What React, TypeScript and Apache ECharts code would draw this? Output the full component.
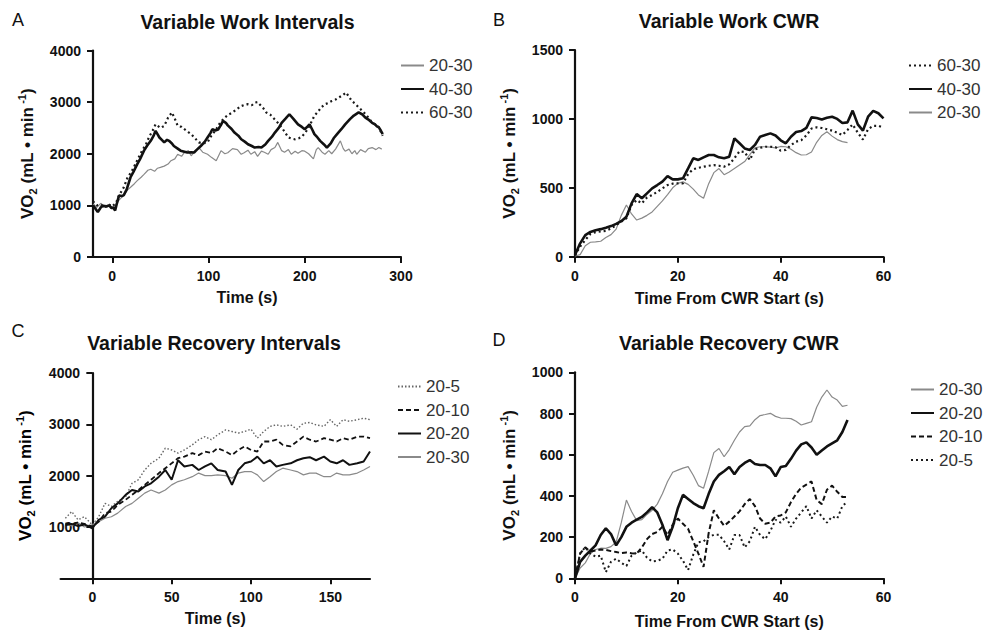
import React, { useEffect, useRef } from "react";
import * as echarts from "echarts";

// ---------- A: Variable Work Intervals (time s, VO2 mL/min) ----------
const wiT_20_30 = [-20,-16,-12,-8,-4,0,3,7,12,16,19,23,26,30,33,37,40,44,47,50,54,58,61,65,68,72,75,79,82,86,90,94,99,103,108,113,117,120,125,130,134,137,141,144,148,151,155,158,162,165,169,172,176,179,183,186,190,193,197,200,204,209,212,214,218,221,225,228,232,237,240,242,246,249,252,254,258,263,266,270,274,277,280];
const wiV_20_30 = [1030,960,1040,980,1010,930,1000,1100,1200,1300,1350,1420,1480,1545,1600,1680,1700,1660,1720,1735,1760,1800,1865,1900,1990,1950,2025,2060,1960,2050,2120,2030,1990,1930,1865,2060,2000,2020,2100,2080,1990,2020,2070,1990,2040,1950,2050,2030,1990,2080,2120,2220,2060,2030,2080,1990,2050,2010,2060,2050,2000,1900,2080,2120,2030,1990,2060,2000,2090,2250,2100,2050,2090,2000,2060,1990,2080,2030,2100,2120,2080,2120,2090];
const wiT_40_30 = [-20,-18,-15,-12,-10,-6,-3,-1,1,3,5,7,10,12,15,19,22,26,29,33,36,40,43,45,47,49,52,54,57,59,62,64,68,71,75,78,82,85,88,92,96,99,102,104,107,110,113,115,118,120,124,127,131,134,138,141,145,148,152,155,159,162,166,169,173,176,180,184,188,193,197,200,203,205,208,210,213,216,220,223,227,230,234,238,242,247,251,256,260,263,267,270,273,275,277,279,281];
const wiV_40_30 = [1000,950,870,960,990,980,1000,950,960,900,1050,1190,1180,1200,1310,1545,1650,1800,1900,2060,2150,2250,2350,2445,2380,2315,2260,2220,2270,2250,2200,2150,2100,2060,2040,2025,2030,2025,2080,2150,2230,2315,2400,2475,2450,2470,2560,2635,2600,2550,2480,2410,2350,2280,2230,2185,2150,2120,2130,2120,2180,2250,2330,2410,2500,2600,2680,2765,2680,2570,2520,2475,2530,2570,2460,2380,2320,2250,2180,2120,2200,2300,2390,2475,2570,2670,2740,2800,2760,2700,2650,2600,2570,2530,2510,2450,2380];
const wiT_60_30 = [-20,-16,-12,-8,-4,0,4,7,12,16,20,24,28,31,35,38,42,45,50,54,58,62,65,68,72,75,79,82,86,90,94,99,103,108,112,117,121,125,130,134,138,141,145,148,151,153,157,160,164,167,172,176,180,183,187,190,194,197,201,204,207,210,214,217,221,224,228,232,235,239,243,246,249,253,256,260,263,267,270,274,277,281];
const wiV_60_30 = [1080,1000,1020,960,1020,980,1050,1190,1350,1545,1650,1800,1950,2060,2180,2315,2450,2570,2500,2540,2700,2800,2680,2540,2520,2475,2420,2380,2300,2220,2200,2220,2350,2475,2600,2700,2760,2800,2870,2925,2950,2960,2940,2990,3000,2960,2880,2800,2760,2700,2600,2510,2400,2315,2290,2280,2300,2330,2420,2510,2620,2735,2820,2895,2960,2980,3020,3050,3085,3130,3185,3100,3020,2960,2895,2830,2765,2680,2600,2560,2510,2350];

// ---------- B: Variable Work CWR (s from CWR start) ----------
const cwrSeconds60 = Array.from({ length: 61 }, (_, i) => i);
const cwrSeconds53 = Array.from({ length: 54 }, (_, i) => i);
const wcV_60_30 = [10,73,121,165,178,183,188,205,228,255,278,375,411,387,430,448,470,496,520,530,532,532,600,635,645,653,660,665,660,653,670,715,765,760,702,780,790,798,798,795,770,775,810,835,845,880,930,939,934,925,915,900,883,920,960,900,850,925,950,950,935];
const wcV_40_30 = [12,97,157,180,192,200,210,222,238,258,290,387,455,424,460,496,520,545,585,561,561,569,641,714,702,721,738,738,721,714,726,859,823,786,774,811,871,883,895,880,845,823,870,905,912,935,1011,1006,995,1008,1016,1000,970,975,1060,960,915,1016,1058,1041,1004];
const wcV_20_30 = [5,15,80,105,108,112,140,160,200,300,375,310,266,280,300,325,365,405,450,500,532,543,525,490,448,424,530,610,640,595,615,640,665,690,740,790,798,798,795,790,800,798,780,755,738,740,760,830,880,907,875,850,835,828];

// ---------- C: Variable Recovery Intervals ----------
const riT = [-17,-13,-9,-5,0,4,8,12,16,21,25,29,33,37,42,46,50,54,58,63,67,71,75,79,84,88,92,96,100,104,108,112,116,120,125,129,133,137,141,146,150,154,158,162,167,171,175];
const riV_20_5 = [1170,1300,1140,1200,1040,1200,1460,1400,1500,1590,1850,1920,2110,2240,2340,2535,2500,2440,2500,2600,2700,2760,2700,2795,2890,2860,2830,2860,2905,2730,2860,2960,2990,2960,2990,2905,3020,3035,2990,2960,3090,2960,3090,3060,3090,3120,3090];
const riV_20_10 = [1070,1050,1090,1060,1010,1100,1270,1300,1430,1530,1625,1720,1820,1920,2050,2145,2240,2340,2370,2440,2400,2470,2440,2535,2470,2400,2500,2570,2500,2470,2665,2665,2700,2600,2570,2665,2760,2700,2665,2730,2700,2665,2730,2700,2760,2760,2730];
const riV_20_20 = [1040,1060,1020,1050,975,1140,1200,1365,1460,1625,1720,1690,1790,1850,1980,2110,1920,2300,2180,2210,2110,2180,2240,2110,2080,1820,2110,2240,2275,2370,2240,2300,2180,2210,2240,2300,2340,2360,2300,2370,2275,2240,2300,2210,2240,2275,2470];
const riV_20_30 = [1060,1020,1080,1000,1040,1100,1170,1200,1270,1400,1460,1560,1660,1720,1660,1720,1820,1885,1920,1980,2050,2000,2000,2015,2000,1950,2050,2080,2080,2015,1885,1980,2080,2145,2110,2080,2015,2050,2050,1980,1980,2050,2015,2015,2050,2110,2180];

// ---------- D: Variable Recovery CWR ----------
const rcV_20_30 = [0,50,75,120,140,146,145,154,176,270,380,324,280,285,310,330,360,410,470,515,525,535,542,500,450,437,520,610,630,590,625,670,710,736,740,770,790,795,801,786,778,777,775,762,744,752,760,830,880,914,880,865,835,840];
const rcV_20_20 = [0,80,110,135,160,210,243,215,160,200,250,270,285,298,320,345,320,260,185,250,340,405,385,365,350,340,410,470,502,520,540,505,540,560,574,555,550,550,534,495,540,545,580,620,650,660,635,600,620,640,655,670,710,769];
const rcV_20_10 = [0,120,150,130,135,140,138,132,128,122,125,122,120,150,190,215,225,250,210,260,290,265,240,180,120,55,220,330,290,255,275,300,325,360,385,350,290,265,270,300,305,320,370,410,440,455,470,380,360,430,450,420,395,395];
const rcV_20_5 = [0,122,150,120,105,110,30,80,95,75,60,110,125,135,100,82,85,95,135,140,120,85,40,115,175,180,200,211,211,180,140,210,210,150,180,250,210,190,230,284,270,300,250,290,320,350,290,330,300,270,300,290,350,373];

// Axis tick labels
const workIntTicksX = [0, 100, 200, 300];
const recIntTicksX = [0, 50, 100, 150];
const recIntTicksY = [1000, 2000, 3000, 4000];

const FONT = "'Liberation Sans', Arial, Helvetica, sans-serif";
const INK = "#111111";
const GRAY = "#8a8a8a";

const zip = (t: number[], v: number[]) => t.map((x, i) => [x, v[i]]);
const plain = (v: number) => String(v);

const axisLine = (onZero: boolean) => ({ show: true, onZero, lineStyle: { color: INK, width: 2.2 } });
const axisTick = { show: true, length: 6, lineStyle: { color: INK, width: 2 } };
const tickLabel = { color: INK, fontSize: 14, fontWeight: "bold" as const, fontFamily: FONT, formatter: plain };

const yName = "{a|VO}{s|2}{a| (mL • min}{p| -1}{a|)}";
const yNameRich = {
  a: { fontSize: 17, fontWeight: "bold", fontFamily: FONT, color: INK, lineHeight: 22 },
  s: { fontSize: 11, fontWeight: "bold", fontFamily: FONT, color: INK, verticalAlign: "bottom", lineHeight: 22 },
  p: { fontSize: 11, fontWeight: "bold", fontFamily: FONT, color: INK, verticalAlign: "top", lineHeight: 22 },
};
const xNameStyle = { fontSize: 16, fontWeight: "bold", fontFamily: FONT, color: INK };

function makeX(gridIndex: number, name: string, min: number, max: number, gap: number, extra: any) {
  return {
    type: "value", gridIndex, name, nameLocation: "middle", nameGap: gap, nameTextStyle: xNameStyle,
    nameMoveOverlap: false,
    min, max, splitLine: { show: false },
    axisLine: axisLine(true), axisTick: { ...axisTick, ...(extra.tick || {}) },
    axisLabel: { ...tickLabel, margin: 12, ...(extra.label || {}) },
    ...(extra.axis || {}),
  };
}
function makeY(gridIndex: number, min: number, max: number, onZero: boolean, name: string, extra: any) {
  return {
    type: "value", gridIndex, name, nameLocation: "middle", nameGap: 55, nameTextStyle: { rich: yNameRich },
    nameMoveOverlap: false,
    min, max, splitLine: { show: false },
    axisLine: axisLine(onZero), axisTick: { ...axisTick, ...(extra.tick || {}) },
    axisLabel: { ...tickLabel, margin: 12, ...(extra.label || {}) },
    ...(extra.axis || {}),
  };
}

const solid = (color: string, width: number) => ({ color, width, type: "solid" });
const dashed = (color: string, width: number, dash: number[]) => ({ color, width, type: dash });

function line(name: string, idx: number, t: number[], v: number[], style: any) {
  return {
    type: "line", name, xAxisIndex: idx, yAxisIndex: idx, data: zip(t, v),
    symbol: "none", showSymbol: false, lineStyle: style, itemStyle: { color: style.color },
    silent: true, z: 3,
  };
}

function legend(left: number, top: number, names: string[]) {
  return {
    orient: "vertical", left, top, itemWidth: 23, itemHeight: 10, itemGap: 6.5,
    selectedMode: false, data: names, formatter: (n: string) => n.slice(2),
    itemStyle: { opacity: 0 },
    textStyle: { fontSize: 17, color: "#333", fontFamily: FONT },
  };
}

function label(text: string, x: number, y: number, size: number, weight: string) {
  return {
    type: "text", x, y, silent: true,
    style: { text, fill: INK, fontSize: size, fontWeight: weight, fontFamily: FONT, align: "center", verticalAlign: "middle" },
  };
}

export default function App() {
  const ref = useRef<HTMLDivElement>(null);

  useEffect(() => {
    if (!ref.current) return;
    const chart = echarts.init(ref.current, undefined, { renderer: "svg" });

    const option: any = {
      animation: false,
      backgroundColor: "#ffffff",
      textStyle: { fontFamily: FONT },
      grid: [
        { left: 93, top: 50.5, width: 308, height: 206.5, containLabel: false, outerBoundsMode: "none" },
        { left: 575, top: 50, width: 308.5, height: 206.7, containLabel: false, outerBoundsMode: "none" },
        { left: 60.6, top: 373, width: 309.4, height: 205.3, containLabel: false, outerBoundsMode: "none" },
        { left: 575, top: 372.3, width: 308.5, height: 206, containLabel: false, outerBoundsMode: "none" },
      ],
      xAxis: [
        makeX(0, "Time (s)", -20, 300, 32, { tick: { customValues: workIntTicksX }, label: { customValues: workIntTicksX } }),
        makeX(1, "Time From CWR Start (s)", 0, 60, 34, { axis: { interval: 20 } }),
        makeX(2, "Time (s)", -20, 175, 32, { tick: { customValues: recIntTicksX }, label: { customValues: recIntTicksX } }),
        makeX(3, "Time From CWR Start (s)", 0, 60, 35, { axis: { interval: 20 } }),
      ],
      yAxis: [
        makeY(0, 0, 4000, false, yName, { axis: { interval: 1000 } }),
        makeY(1, 0, 1500, false, yName, { axis: { interval: 500 } }),
        // this axis line sits on x = 0 while its labels are laid out from the grid edge,
        // so the label margin is pulled inward to keep them beside the line;
        // its title is drawn as a graphic text below
        makeY(2, 0, 4000, true, "", {
          tick: { customValues: recIntTicksY },
          label: { customValues: recIntTicksY, margin: -19.4 },
        }),
        makeY(3, 0, 1000, false, yName, { axis: { interval: 200 } }),
      ],
      legend: [
        legend(395, 52, ["A 20-30", "A 40-30", "A 60-30"]),
        legend(903, 52, ["B 60-30", "B 40-30", "B 20-30"]),
        legend(392, 373, ["C 20-5", "C 20-10", "C 20-20", "C 20-30"]),
        legend(905, 376, ["D 20-30", "D 20-20", "D 20-10", "D 20-5"]),
      ],
      series: [
        line("A 20-30", 0, wiT_20_30, wiV_20_30, solid(GRAY, 1.2)),
        line("A 40-30", 0, wiT_40_30, wiV_40_30, solid(INK, 2.6)),
        line("A 60-30", 0, wiT_60_30, wiV_60_30, dashed("#1a1a1a", 2.2, [2, 3])),

        line("B 20-30", 1, cwrSeconds53, wcV_20_30, solid(GRAY, 1.2)),
        line("B 60-30", 1, cwrSeconds60, wcV_60_30, dashed("#1a1a1a", 2.2, [2, 3])),
        line("B 40-30", 1, cwrSeconds60, wcV_40_30, solid(INK, 2.6)),

        line("C 20-30", 2, riT, riV_20_30, solid(GRAY, 1.2)),
        line("C 20-5", 2, riT, riV_20_5, dashed("#666666", 1.4, [1.5, 2])),
        line("C 20-10", 2, riT, riV_20_10, dashed(INK, 1.8, [5, 3])),
        line("C 20-20", 2, riT, riV_20_20, solid(INK, 2.0)),

        line("D 20-30", 3, cwrSeconds53, rcV_20_30, solid(GRAY, 1.2)),
        line("D 20-10", 3, cwrSeconds53, rcV_20_10, dashed(INK, 2, [5, 3])),
        line("D 20-5", 3, cwrSeconds53, rcV_20_5, dashed("#1a1a1a", 2, [2, 3])),
        line("D 20-20", 3, cwrSeconds53, rcV_20_20, solid(INK, 2.6)),
      ],
      graphic: [
        label("A", 18, 20, 18, "normal"),
        label("B", 499, 20, 18, "normal"),
        label("C", 18, 331, 18, "normal"),
        label("D", 499, 340, 18, "normal"),
        label("Variable Work Intervals", 247.5, 21.7, 19.5, "bold"),
        label("Variable Work CWR", 729, 20.5, 19.5, "bold"),
        label("Variable Recovery Intervals", 214, 343, 19.5, "bold"),
        label("Variable Recovery CWR", 729, 343, 19.5, "bold"),
        {
          type: "text", x: 25, y: 475.6, rotation: Math.PI / 2, silent: true,
          style: { text: yName, rich: yNameRich, align: "center", verticalAlign: "middle" },
        },
      ],
    };

    chart.setOption(option);
    return () => chart.dispose();
  }, []);

  return (
    <div
      ref={ref}
      style={{ position: "absolute", left: 0, top: 0, width: 987, height: 633, background: "#fff" }}
    />
  );
}
